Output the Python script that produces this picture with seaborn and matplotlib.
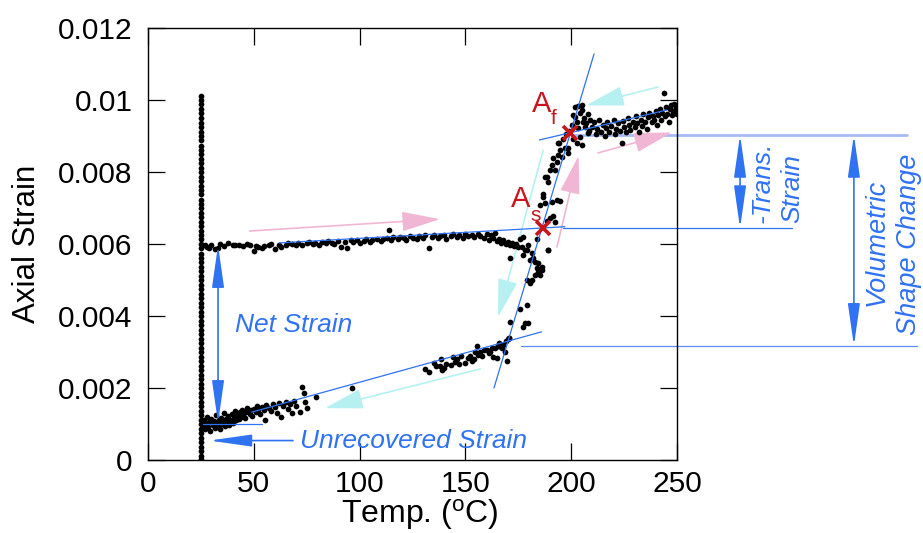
import matplotlib
matplotlib.use('Agg')
import matplotlib.pyplot as plt
import pandas as pd
import seaborn as sns

# ---------------- data (Temp in degC, axial strain) ----------------
col_T = 25.0
col_S = [0.01012, 0.01001, 0.00988, 0.00975, 0.00963, 0.00951, 0.00936, 0.00925, 0.00911, 0.00899,
         0.00888, 0.00873, 0.00862, 0.00850, 0.00836, 0.00825, 0.00811, 0.00800, 0.00786, 0.00775,
         0.00761, 0.00750, 0.00738, 0.00723, 0.00712, 0.00700, 0.00686, 0.00675, 0.00661, 0.00650,
         0.00636, 0.00625, 0.00613, 0.00599, 0.00588, 0.00573, 0.00562, 0.00550, 0.00536, 0.00525,
         0.00511, 0.00500, 0.00486, 0.00475, 0.00461, 0.00450, 0.00436, 0.00425, 0.00411, 0.00400,
         0.00386, 0.00375, 0.00361, 0.00350, 0.00336, 0.00325, 0.00311, 0.00300, 0.00286, 0.00275,
         0.00261, 0.00250, 0.00236, 0.00225, 0.00211, 0.00200, 0.00186, 0.00175, 0.00161, 0.00150,
         0.00136, 0.00125, 0.00111, 0.00100, 0.00087, 0.00075, 0.00061, 0.00050, 0.00036, 0.00025,
         0.00012, 0.00003]

upper_T = [27, 28, 29, 30, 31.5, 33, 34, 36, 38, 40, 41, 43, 45, 47, 48, 50, 51, 52, 54, 55,
           57, 58, 60, 62, 63, 65, 66, 68, 70, 71, 73, 75, 76, 78, 79, 81, 82, 84, 85, 87,
           88, 90, 91, 93, 94, 96, 97, 99, 100, 102, 103, 105, 106, 108, 110, 111, 113, 114, 115, 116,
           118, 119, 121, 122, 124, 125, 127, 128, 130, 131, 133, 134, 135, 137, 138, 140, 141, 143, 144, 146,
           147, 149, 150, 151, 153, 154, 156, 157, 159, 160, 161, 162, 163, 164, 165, 166, 167, 168, 169, 170,
           171, 172, 173, 174, 175]
upper_S = [0.00598, 0.00592, 0.00588, 0.00596, 0.00585, 0.00590, 0.00600, 0.00594, 0.00602, 0.00596,
           0.00598, 0.00597, 0.00595, 0.00600, 0.00598, 0.00580, 0.00595, 0.00592, 0.00588, 0.00594,
           0.00598, 0.00600, 0.00585, 0.00596, 0.00592, 0.00598, 0.00604, 0.00600, 0.00596, 0.00603,
           0.00598, 0.00602, 0.00605, 0.00600, 0.00604, 0.00598, 0.00606, 0.00602, 0.00607, 0.00603,
           0.00600, 0.00608, 0.00592, 0.00605, 0.00588, 0.00610, 0.00606, 0.00612, 0.00604, 0.00609,
           0.00614, 0.00606, 0.00611, 0.00615, 0.00609, 0.00613, 0.00617, 0.00640, 0.00612, 0.00619,
           0.00614, 0.00620, 0.00616, 0.00611, 0.00621, 0.00618, 0.00613, 0.00622, 0.00617, 0.00624,
           0.00590, 0.00620, 0.00625, 0.00618, 0.00622, 0.00626, 0.00615, 0.00621, 0.00627, 0.00620,
           0.00624, 0.00618, 0.00628, 0.00623, 0.00626, 0.00619, 0.00627, 0.00622, 0.00618, 0.00628,
           0.00612, 0.00624, 0.00616, 0.00630, 0.00608, 0.00614, 0.00604, 0.00610, 0.00600, 0.00606,
           0.00597, 0.00603, 0.00594, 0.00600, 0.00591]

trans_T = [175.8, 177.2, 179.7, 178.2, 181.3, 182.0, 184.4, 183.8, 186.0, 185.3, 181.3, 189.0, 183.7,
           176.6, 179.0, 177.4, 180.5, 182.9, 186.0, 184.5, 182.9, 189.2, 180.5, 171.0,
           179.0, 176.0, 179.0, 178.0, 179.5, 177.0, 171.0, 170.6, 169.6,
           190.0, 191.5, 188.4, 192.3, 190.8, 193.1, 194.7, 186.8, 187.6, 185.3, 186.8,
           188.4, 189.2, 187.6, 190.0, 192.3, 190.8, 193.1, 191.5, 193.9, 195.5, 194.7, 197.1, 198.6,
           193.9, 196.3, 202.6, 201.0, 204.2, 201.8, 201.0, 202.6, 204.2, 201.8, 203.4, 205.0,
           205.7, 206.5, 203.4, 200.2, 205.0, 208.0, 205.0, 198.6, 194.0, 197.5, 199.0]
trans_S = [0.00613, 0.00620, 0.00597, 0.00583, 0.00575, 0.00560, 0.00547, 0.00533, 0.00528, 0.00514, 0.00500, 0.00583, 0.00614,
           0.00593, 0.00583, 0.00570, 0.00556, 0.00551, 0.00537, 0.00523, 0.00514, 0.00583, 0.00491, 0.00560,
           0.00500, 0.00420, 0.00430, 0.00380, 0.00380, 0.00370, 0.00383, 0.00340, 0.00275,
           0.00671, 0.00678, 0.00665, 0.00662, 0.00718, 0.00722, 0.00720, 0.00731, 0.00713, 0.00708, 0.00740,
           0.00787, 0.00773, 0.00785, 0.00806, 0.00806, 0.00820, 0.00829, 0.00838, 0.00847, 0.00843, 0.00861, 0.00866, 0.00852,
           0.00880, 0.00893, 0.00880, 0.00893, 0.00898, 0.00954, 0.00958, 0.00940, 0.00963, 0.00981, 0.00983, 0.00972,
           0.00940, 0.00926, 0.00921, 0.00930, 0.00986, 0.00907, 0.00875, 0.00866, 0.00880, 0.00905, 0.00915]

top_T = [206, 207, 208, 208.5, 209, 210, 211, 211.5, 212, 213, 214, 215, 216, 216.5, 217, 218, 219, 220,
         220.5, 221, 222, 223, 224, 224.5, 225, 226, 227, 227.5, 228, 229, 230, 230.5, 231, 232, 233,
         233.5, 234, 235, 236, 236.5, 237, 238, 238.5, 239, 240, 240.5, 241, 242, 242.5, 243, 244,
         244.5, 245, 245.5, 246, 246.5, 247, 247.5, 248, 248.5, 249, 249.5, 250, 249.8]
top_S = [0.00950, 0.00935, 0.00960, 0.00915, 0.00945, 0.00925, 0.00938, 0.00905, 0.00920, 0.00945,
         0.00912, 0.00930, 0.00900, 0.00922, 0.00940, 0.00910, 0.00928, 0.00945, 0.00905, 0.00920,
         0.00935, 0.00915, 0.00880, 0.00942, 0.00925, 0.00910, 0.00950, 0.00930, 0.00918, 0.00940,
         0.00925, 0.00955, 0.00935, 0.00912, 0.00945, 0.00928, 0.00960, 0.00940, 0.00920, 0.00952,
         0.00965, 0.00938, 0.00955, 0.00945, 0.00970, 0.00930, 0.00958, 0.00975, 0.00945, 0.00965,
         0.01020, 0.00955, 0.00980, 0.00962, 0.00940, 0.00975, 0.00985, 0.00958, 0.00970, 0.00990,
         0.00965, 0.00978, 0.00960, 0.00985]

lower_T = [26, 26.5, 27, 27.5, 28, 28.5, 29, 29.5, 30, 30.5, 31, 31.5, 32, 32.5, 33, 33.5, 34, 34.5,
           35, 35.5, 36, 36.5, 37, 37.5, 38, 38.5, 39, 39.5, 40, 40.5, 41, 41.5, 42, 43, 43.5, 44,
           44.5, 45, 46, 46.5, 47, 48, 48.5, 49, 50, 51, 51.5, 52, 53, 54, 55, 55.5, 56, 57, 58, 59,
           60, 61, 62, 63, 64, 65, 66, 67, 68, 69, 70, 72, 73, 73.5, 74, 75, 79.5, 96.5,
           131, 133, 135, 136, 138, 138.5, 139, 140, 141, 143, 144, 145, 146, 147, 148, 150, 151, 152,
           153, 154, 154.5, 155.5, 156, 157, 158, 159, 160, 161, 161.6, 162.5, 163, 164, 165, 166,
           167, 168, 168.5, 169, 170, 170.6, 165.5, 167.5]
lower_S = [0.00095, 0.00110, 0.00085, 0.00100, 0.00120, 0.00092, 0.00105, 0.00080, 0.00115, 0.00098,
           0.00108, 0.00088, 0.00125, 0.00102, 0.00094, 0.00112, 0.00085, 0.00118, 0.00100, 0.00108,
           0.00130, 0.00095, 0.00115, 0.00105, 0.00122, 0.00098, 0.00112, 0.00128, 0.00104, 0.00118,
           0.00135, 0.00110, 0.00124, 0.00115, 0.00132, 0.00120, 0.00140, 0.00126, 0.00118, 0.00134,
           0.00145, 0.00128, 0.00138, 0.00122, 0.00142, 0.00133, 0.00150, 0.00138, 0.00128, 0.00146,
           0.00140, 0.00110, 0.00152, 0.00145, 0.00135, 0.00155, 0.00148, 0.00130, 0.00158, 0.00120,
           0.00150, 0.00162, 0.00142, 0.00155, 0.00130, 0.00165, 0.00150, 0.00133, 0.00203, 0.00186,
           0.00160, 0.00145, 0.00175, 0.00200,
           0.00253, 0.00244, 0.00270, 0.00262, 0.00260, 0.00280, 0.00250, 0.00255, 0.00268, 0.00264,
           0.00286, 0.00272, 0.00280, 0.00266, 0.00288, 0.00270, 0.00284, 0.00290, 0.00276, 0.00280,
           0.00300, 0.00317, 0.00292, 0.00300, 0.00288, 0.00305, 0.00306, 0.00296, 0.00300, 0.00312,
           0.00286, 0.00310, 0.00283, 0.00325, 0.00315, 0.00320, 0.00300, 0.00330, 0.00335, 0.00340,
           0.00318, 0.00310]

# fitted tangent lines (T pairs, S pairs)
fit_upper_T, fit_upper_S = [62, 197], [0.00603, 0.00648]
fit_top_T, fit_top_S = [185, 245], [0.00889, 0.00972]
fit_steep_T, fit_steep_S = [163.5, 210.8], [0.00200, 0.01128]
fit_lower_T, fit_lower_S = [49, 186], [0.00133, 0.00356]
fit_base_T, fit_base_S = [26, 54], [0.00100, 0.00100]

# reference levels carried to the right
lvl_af_T, lvl_af_S = [201, 358.7], [0.00903, 0.00903]
lvl_as_T, lvl_as_S = [196.1, 304.3], [0.00644, 0.00644]
lvl_low_T, lvl_low_S = [176.3, 363.4], [0.00317, 0.00317]

# transformation points
Af_pt = (199.4, 0.00908)
As_pt = (186.7, 0.00644)

# heating (pink) and cooling (cyan) direction arrows: (tail, tip)
heat_arrows = [((48, 0.00636), (138, 0.00669)),
               ((193.3, 0.00592), (203.5, 0.00845)),
               ((212.7, 0.00853), (247.6, 0.00910))]
cool_arrows = [((241, 0.01036), (207, 0.00985)),
               ((186.7, 0.00860), (165.4, 0.00397)),
               ((157, 0.00253), (83.6, 0.00144))]

x_ticks = [0, 50, 100, 150, 200, 250]
y_ticks = [0, 0.002, 0.004, 0.006, 0.008, 0.01, 0.012]
y_ticklabels = ['0', '0.002', '0.004', '0.006', '0.008', '0.01', '0.012']

# ---------------- styling ----------------
sns.set_theme(style='ticks')
plt.rcParams['font.family'] = ['Liberation Sans', 'DejaVu Sans']
plt.rcParams['mathtext.fontset'] = 'custom'
plt.rcParams['mathtext.rm'] = 'Liberation Sans'
plt.rcParams['mathtext.it'] = 'Liberation Sans:italic'
plt.rcParams['mathtext.bf'] = 'Liberation Sans:bold'

BLUE = '#2f72f2'
LBLUE = '#a6bbf6'
PINK = '#f1b6d3'
CYAN = '#b6f0f0'
RED = '#c8161c'

fig = plt.figure(figsize=(9.23, 5.33), dpi=100)
ax = fig.add_axes([148 / 923, 73 / 533, 529 / 923, 432 / 533])

df = pd.concat([
    pd.DataFrame({'T': [col_T] * len(col_S), 'S': col_S}),
    pd.DataFrame({'T': upper_T, 'S': upper_S}),
    pd.DataFrame({'T': trans_T, 'S': trans_S}),
    pd.DataFrame({'T': top_T, 'S': top_S}),
    pd.DataFrame({'T': lower_T, 'S': lower_S}),
], ignore_index=True)

sns.scatterplot(data=df, x='T', y='S', color='black', s=17, linewidth=0, ax=ax, zorder=2, legend=False)

for tt, ss in [(fit_upper_T, fit_upper_S), (fit_top_T, fit_top_S), (fit_steep_T, fit_steep_S),
               (fit_lower_T, fit_lower_S), (fit_base_T, fit_base_S)]:
    ax.plot(tt, ss, color=BLUE, lw=0.9, zorder=3)

ax.plot(lvl_af_T, lvl_af_S, color=LBLUE, lw=2.0, zorder=1, clip_on=False)
ax.plot(lvl_as_T, lvl_as_S, color=BLUE, lw=0.9, zorder=1, clip_on=False)
ax.plot(lvl_low_T, lvl_low_S, color='#5a8cf4', lw=0.9, zorder=1, clip_on=False)


def arrow(tail, tip, color, style, lw, z=1):
    ax.annotate('', xy=tip, xytext=tail, xycoords='data', textcoords='data',
                arrowprops=dict(arrowstyle=style, color=color, lw=lw, shrinkA=0, shrinkB=0,
                                mutation_scale=10),
                annotation_clip=False, zorder=z)


HEAD_PC = '-|>,head_length=2.4,head_width=0.62'
for tail, tip in heat_arrows:
    arrow(tail, tip, PINK, HEAD_PC, 1.2)
for tail, tip in cool_arrows:
    arrow(tail, tip, CYAN, HEAD_PC, 1.2)

# blue measurement arrows
D2 = '<|-|>,head_length=2.6,head_width=0.37'
D1 = '-|>,head_length=2.6,head_width=0.37'
arrow((33.1, 0.00103), (33.1, 0.00597), BLUE, D2, 1.2, 4)
arrow((68.5, 0.00054), (29.0, 0.00054), BLUE, D1, 1.2, 4)
arrow((279.8, 0.00644), (279.8, 0.00903), BLUE, D2, 1.2, 4)
arrow((333.6, 0.00317), (333.6, 0.00903), BLUE, D2, 1.2, 4)

# transformation markers
for pt in (Af_pt, As_pt):
    ax.plot([pt[0]], [pt[1]], marker='x', color=RED, markersize=10, mew=2.6, zorder=5)
ax.text(181.5, 0.00967, 'A', color=RED, fontsize=21, ha='left', va='baseline')
ax.text(190.3, 0.00934, 'f', color=RED, fontsize=15, ha='left', va='baseline')
ax.text(171.6, 0.00703, 'A', color=RED, fontsize=21, ha='left', va='baseline')
ax.text(180.5, 0.00665, 's', color=RED, fontsize=15, ha='left', va='baseline')

# annotation texts
tkw = dict(color=BLUE, fontsize=19, style='italic')
ax.text(41.1, 0.00356, 'Net Strain', ha='left', va='baseline', **tkw)
ax.text(71.8, 0.00033, 'Unrecovered Strain', ha='left', va='baseline', **tkw)
ax.text(290.6, 0.00658, '-Trans.', rotation=90, ha='center', va='bottom', clip_on=False, **tkw)
ax.text(304.3, 0.00658, 'Strain', rotation=90, ha='center', va='bottom', clip_on=False, **tkw)
ax.text(344.5, 0.00605, 'Volumetric', rotation=90, ha='center', va='center', clip_on=False,
        color=BLUE, fontsize=19.5, style='italic')
ax.text(359.6, 0.00598, 'Shape Change', rotation=90, ha='center', va='center', clip_on=False,
        color=BLUE, fontsize=19.5, style='italic')

# axes
ax.set_xlim(0, 250)
ax.set_ylim(0, 0.012)
ax.set_xticks(x_ticks)
ax.set_xticklabels([str(v) for v in x_ticks])
ax.set_yticks(y_ticks)
ax.set_yticklabels(y_ticklabels)
ax.tick_params(axis='both', direction='in', length=12, width=0.9, top=True, right=True,
               labeltop=False, labelright=False, labelsize=21.5, colors='black')
ax.tick_params(axis='x', pad=7)
ax.tick_params(axis='y', pad=11)
for sp in ax.spines.values():
    sp.set_visible(True)
    sp.set_linewidth(1.0)
    sp.set_color('black')
ax.grid(False)

ax.set_xlabel(r'Temp. ($^{\mathregular{o}}$C)', fontsize=23, color='black')
ax.set_ylabel('Axial Strain', fontsize=22.5, color='black')
ax.xaxis.set_label_coords(0.514, -0.085)
ax.yaxis.set_label_coords(-0.201, 0.5)

fig.savefig('out.png', dpi=100)
